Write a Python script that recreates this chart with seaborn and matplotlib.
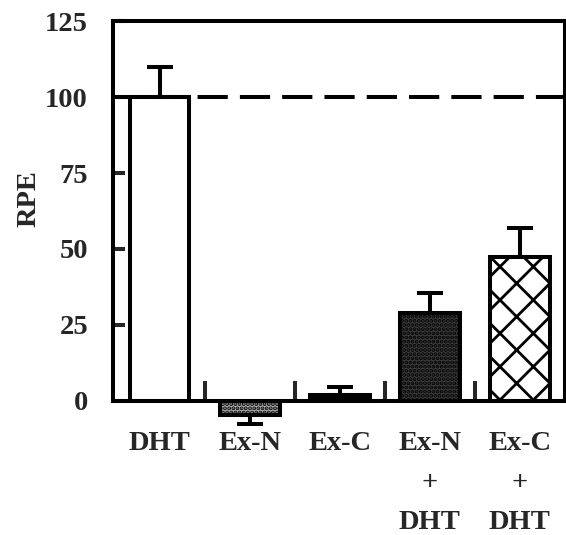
import numpy as np
import pandas as pd
import seaborn as sns
import matplotlib.pyplot as plt
from matplotlib.ticker import FixedLocator

sns.set_style("white")
plt.rcParams['font.family'] = ['Liberation Serif', 'DejaVu Serif']
plt.rcParams['font.weight'] = 'bold'
plt.rcParams['hatch.linewidth'] = 2.0

# data
groups = ["DHT", "Ex-N", "Ex-C", "Ex-N\n+\nDHT", "Ex-C\n+\nDHT"]
rpe = [100, -4.5, 2, 29, 47.5]
sem = [10, 3, 2.5, 6.5, 9.5]
fills = ["white", "#b4b4b4", "black", "#404040", "white"]
hatches = ["", "....", "", "....", "x"]

df = pd.DataFrame({"group": groups, "rpe": rpe})

fig = plt.figure(figsize=(5.66, 5.35), dpi=100)
ax = fig.add_axes([0.1996, 0.2505, 0.7984, 0.7102])

lw = 2.9
fs = 20.5
sns.barplot(data=df, x="group", y="rpe", hue="group", palette=fills,
            legend=False, width=0.66, edgecolor="black", linewidth=lw,
            errorbar=None, ax=ax)

for p, h in zip(ax.patches, hatches):
    p.set_hatch(h)
    p.set_clip_on(False)

# one-sided error bars
x = np.arange(len(groups))
lower = [e if v < 0 else 0 for v, e in zip(rpe, sem)]
upper = [0 if v < 0 else e for v, e in zip(rpe, sem)]
ax.errorbar(x, rpe, yerr=[lower, upper], fmt="none", ecolor="black",
            elinewidth=lw, capsize=9.5, capthick=lw, clip_on=False, zorder=3)

ax.axhline(100, color="black", lw=lw, ls=(0, (7.5, 3)), zorder=1)

ax.set_xlim(-0.52, 4.5)
ax.set_ylim(0, 125)
ax.set_yticks([0, 25, 50, 75, 100, 125])

for s in ax.spines.values():
    s.set_linewidth(lw)
    s.set_color("black")
    s.set_visible(True)

ax.tick_params(axis="y", direction="in", length=8.6, width=lw, pad=18,
               labelsize=fs, left=True)
ax.tick_params(axis="x", which="major", length=0, pad=21.5, labelsize=fs)
ax.xaxis.set_minor_locator(FixedLocator([0.5, 1.5, 2.5, 3.5]))
ax.tick_params(axis="x", which="minor", direction="in", length=14.4,
               width=lw, bottom=True)
for t in ax.get_xticklabels():
    t.set_linespacing(1.78)
    t.set_fontweight("bold")
for t in ax.get_yticklabels():
    t.set_fontweight("bold")

ax.set_xlabel("")
ax.set_ylabel("RPE", fontsize=fs, fontweight="bold")
ax.yaxis.set_label_coords(-0.157, 0.534)

fig.savefig("out.png", dpi=100)
